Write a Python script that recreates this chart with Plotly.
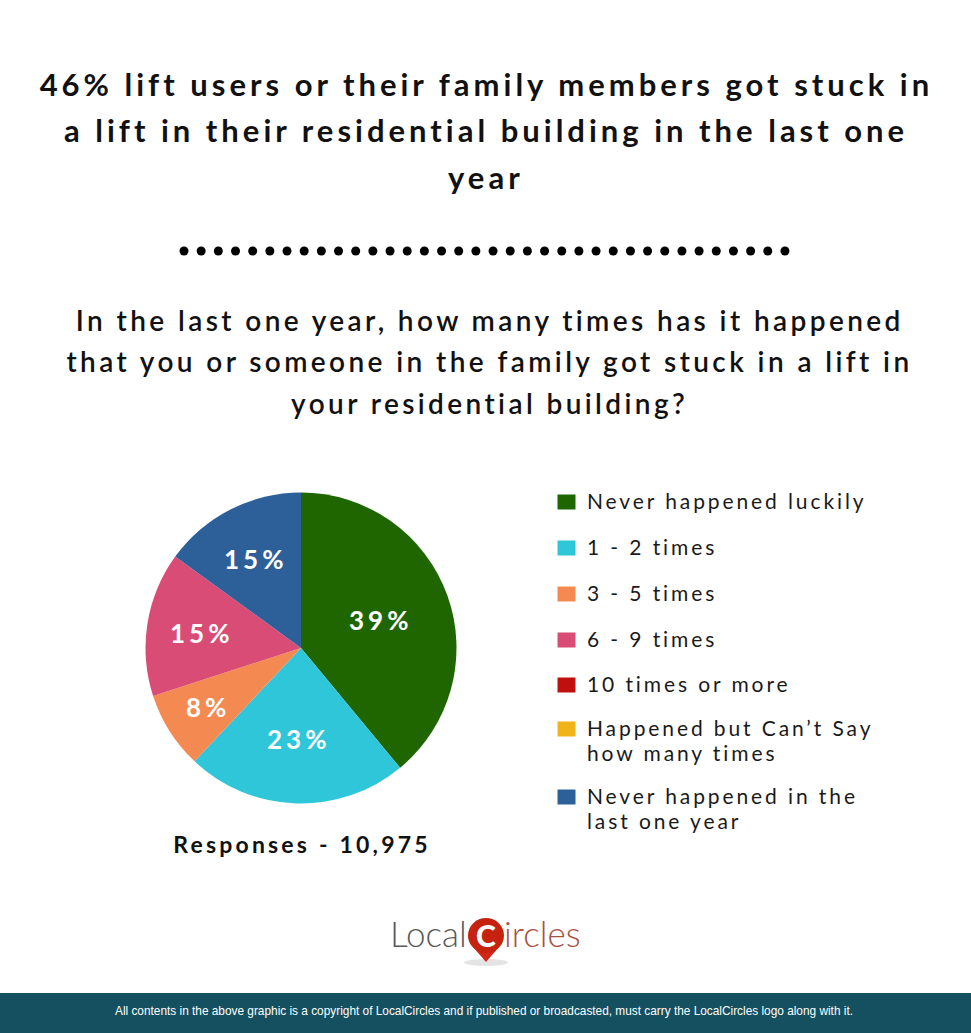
import math
import plotly.graph_objects as go

# values
categories = ["Never happened luckily", "1 - 2 times", "3 - 5 times", "6 - 9 times",
              "10 times or more", "Happened but Can’t Say<br>how many times",
              "Never happened in the<br>last one year"]
shares = [39, 23, 8, 15, 0, 0, 15]
colors = ["#1f6600", "#2fc6d9", "#f48a52", "#d94c75", "#c00f0f", "#f0b41a", "#2d6099"]

title_lines = ["46% lift users or their family members got stuck in",
               "a lift in their residential building in the last one",
               "year"]
question_lines = ["In the last one year, how many times has it happened",
                  "that you or someone in the family got stuck in a lift in",
                  "your residential building?"]
responses = "Responses - 10,975"
footer = "All contents in the above graphic is a copyright of LocalCircles and if published or broadcasted, must carry the LocalCircles logo along with it."

W, H = 971, 1033
FONT = "Lato"
INK = "#111111"
PIE_X, PIE_Y, PIE_R = 301, 648, 155.5

fig = go.Figure()

fig.add_trace(go.Pie(
    labels=categories, values=shares, sort=False, direction="clockwise", rotation=0,
    textinfo="none",
    marker=dict(colors=colors, line=dict(width=0)),
    domain=dict(x=[(PIE_X - PIE_R) / W, (PIE_X + PIE_R) / W],
                y=[1 - (PIE_Y + PIE_R) / H, 1 - (PIE_Y - PIE_R) / H]),
    showlegend=False, hoverinfo="label+percent",
))

# row of dots under the title
dot_x = [184 + 17.17 * i for i in range(36)]
fig.add_trace(go.Scatter(x=dot_x, y=[251] * 36, mode="markers", showlegend=False,
                         marker=dict(size=9, color="#000000"), hoverinfo="skip"))

notes = []
def note(x, y, text, size, color=INK, weight=400, family=FONT, anchor="center"):
    notes.append(dict(x=x, y=y, xref="x", yref="y", text=text, showarrow=False,
                      xanchor=anchor, yanchor="middle",
                      font=dict(family=family, size=size, color=color, weight=weight)))

for y, line in zip([84, 130, 177], title_lines):
    note(486, y, line, 31, weight=700)
for y, line in zip([319.5, 360.5, 402.5], question_lines):
    note(489.5, y, line, 28, weight=600)
note(302, 844, responses, 23, weight=700)

# percent labels sit on the middle of each slice, how far out differs per slice
label_radius = [84, 91, 110, 101, 0, 0, 100]
done = 0
for share, rad in zip(shares, label_radius):
    if share:
        mid = (done + share / 2) / sum(shares) * 2 * math.pi
        note(PIE_X + rad * math.sin(mid), PIE_Y - rad * math.cos(mid) + 0.5,
             f"{share}%", 26, color="white", weight=700)
    done += share

# legend, hand placed because rows are unevenly spaced
legend_rows = [500, 546, 592, 638, 683, 727, 795]
shapes = []
for y, name, col in zip(legend_rows, categories, colors):
    shapes.append(dict(type="rect", xref="x", yref="y", x0=557.5, x1=575.5, y0=y - 5.5, y1=y + 9.5,
                       fillcolor=col, line=dict(width=0)))
    for j, part in enumerate(name.split("<br>")):
        note(584.5, y + j * 25.5, part, 21, color="#1a1a1a", anchor="left")

# footer band
shapes.append(dict(type="rect", xref="x", yref="y", x0=0, x1=W, y0=993, y1=H,
                   fillcolor="#14505f", line=dict(width=0)))
note(484, 1011, footer, 11.85, color="white", family="Liberation Sans")

# logo
shapes.append(dict(type="circle", xref="x", yref="y", x0=464, x1=508, y0=959, y1=966,
                   fillcolor="#e4e4e4", line=dict(width=0)))
shapes.append(dict(type="path", xref="x", yref="y", path="M 473 947 L 486 962 L 499 947 Z",
                   fillcolor="#d0271a", line=dict(width=0)))
shapes.append(dict(type="circle", xref="x", yref="y", x0=468, x1=504, y0=918, y1=953,
                   fillcolor="#c5220f", line=dict(width=0)))
note(428, 933, "Local", 35, color="#5a5a5a", weight=300)
note(542, 933, "ircles", 35, color="#a8503f", weight=300)
note(486, 935, "C", 30, color="white", weight=900)

fig.update_layout(
    width=W, height=H, margin=dict(l=0, r=0, t=0, b=0),
    paper_bgcolor="white", plot_bgcolor="white",
    xaxis=dict(range=[0, W], visible=False, fixedrange=True),
    yaxis=dict(range=[H, 0], visible=False, fixedrange=True),
    annotations=notes, shapes=shapes,
)

# plotly has no letter spacing option, so set it on the drawn text
spacing_js = """
document.body.style.margin = '0';
document.body.style.overflow = 'hidden';
var spacing = {31: 4.0, 28: 3.4, 23: 3.2, 21: 2.9, 26: 4};
document.querySelectorAll('.annotation-text').forEach(function (t) {
    var s = Math.round(parseFloat(t.style.fontSize));
    if (!spacing[s]) { return; }
    var before = t.getComputedTextLength();
    t.style.letterSpacing = spacing[s] + 'px';
    // legend text is left aligned, keep its left edge where it was
    if (s === 21) {
        var grown = t.getComputedTextLength() - before;
        t.setAttribute('x', parseFloat(t.getAttribute('x')) + grown / 2);
    }
});
"""
fig.write_html("out.html", post_script=spacing_js, config=dict(displayModeBar=False))
